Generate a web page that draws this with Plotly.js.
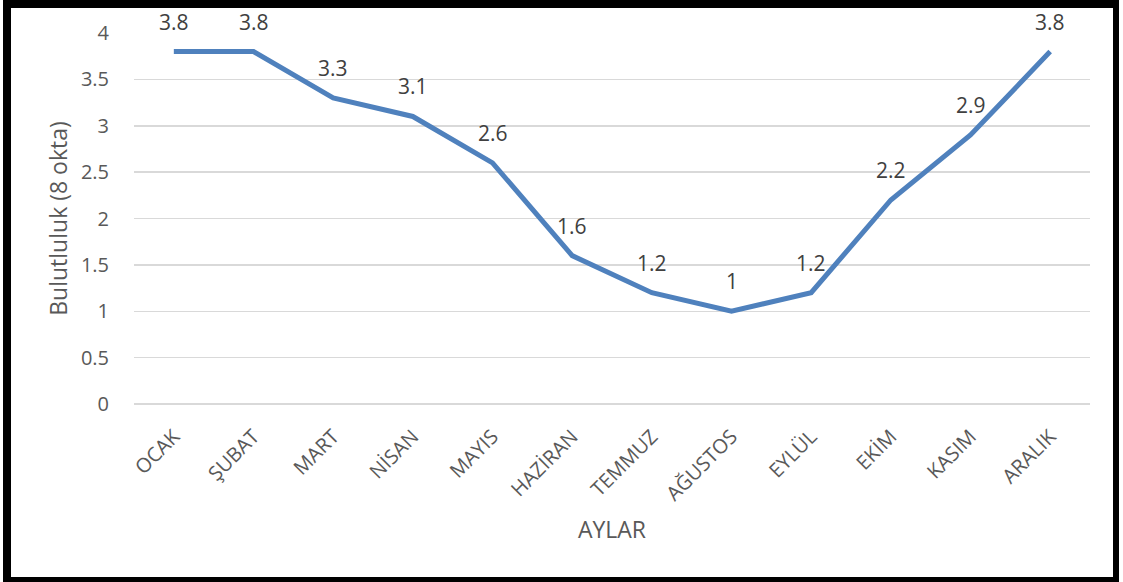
<!DOCTYPE html>
<html>
<head>
<meta charset="utf-8">
<script src="https://cdn.plot.ly/plotly-3.0.1.min.js"></script>
<style>
  html, body { margin:0; padding:0; background:#ffffff; }
  #wrap { position:relative; width:1123px; height:582px; overflow:hidden; }
  #chart { position:absolute; left:0; top:0; width:1123px; height:582px; }
  #frame { position:absolute; left:3px; top:0px; width:1116px; height:582px; box-sizing:border-box;
           border-style:solid; border-color:#000; border-width:8px 6px 5px 8px; pointer-events:none; }
</style>
</head>
<body>
<div id="wrap">
  <div id="chart"></div>
  <div id="frame"></div>
</div>
<script>
const months = ['OCAK','ŞUBAT','MART','NİSAN','MAYIS','HAZİRAN','TEMMUZ','AĞUSTOS','EYLÜL','EKİM','KASIM','ARALIK'];
const cloudiness = [3.8, 3.8, 3.3, 3.1, 2.6, 1.6, 1.2, 1, 1.2, 2.2, 2.9, 3.8];
const yTicks = [0, 0.5, 1, 1.5, 2, 2.5, 3, 3.5, 4];
const yTickText = ['0', '0.5', '1', '1.5', '2', '2.5', '3', '3.5', '4'];

const FONT = '"Open Sans", "Noto Sans", sans-serif';
const GREY = '#595959';

const trace = {
  x: months,
  y: cloudiness,
  type: 'scatter',
  mode: 'lines',
  line: { color: '#4f81bd', width: 5 },
  hoverinfo: 'x+y'
};

const annotations = months.map((m, i) => ({
  x: m, y: cloudiness[i], xref: 'x', yref: 'y',
  text: String(cloudiness[i]),
  showarrow: false,
  yanchor: 'middle',
  yshift: 30,
  font: { family: FONT, size: 21, color: '#404040' }
}));

const layout = {
  width: 1123, height: 582,
  paper_bgcolor: '#ffffff', plot_bgcolor: '#ffffff',
  margin: { l: 134, r: 33, t: 33, b: 178 },
  showlegend: false,
  font: { family: FONT, color: GREY },
  xaxis: {
    type: 'category',
    range: [-0.5, 11.5],
    showgrid: false, zeroline: false, showline: false,
    ticks: 'outside', ticklen: 12, tickcolor: 'rgba(0,0,0,0)',
    tickangle: -45,
    tickfont: { family: FONT, size: 20, color: GREY },
    title: { text: 'AYLAR', font: { family: FONT, size: 23, color: GREY }, standoff: 16 }
  },
  yaxis: {
    range: [0, 4],
    tickvals: yTicks, ticktext: yTickText,
    showgrid: true, gridcolor: '#d9d9d9', gridwidth: 1.5,
    zeroline: true, zerolinecolor: '#d9d9d9', zerolinewidth: 1.5,
    showline: false,
    ticks: 'outside', ticklen: 20, tickcolor: 'rgba(0,0,0,0)',
    tickfont: { family: FONT, size: 20, color: GREY },
    title: { text: 'Bulutluluk (8 okta)', font: { family: FONT, size: 23, color: GREY }, standoff: 6 }
  },
  annotations: annotations
};

Plotly.newPlot('chart', [trace], layout, { displayModeBar: false, staticPlot: true });
</script>
</body>
</html>
